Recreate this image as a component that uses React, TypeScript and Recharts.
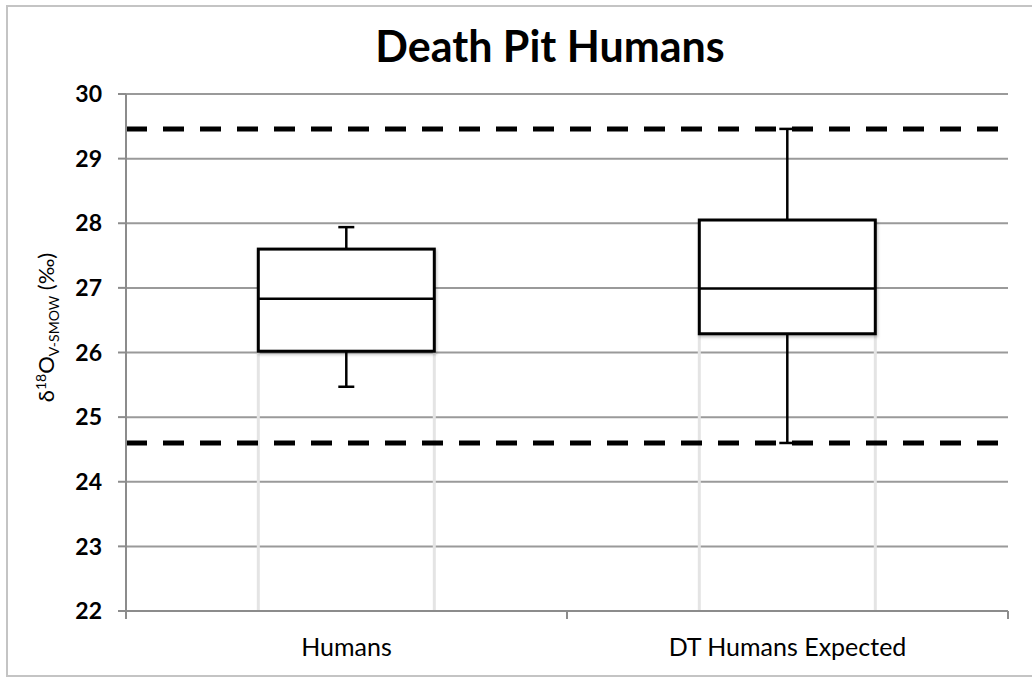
import { ComposedChart, Bar, XAxis, YAxis, CartesianGrid, ReferenceLine } from 'recharts';

// box plot values (per‰)
const categories = ['Humans', 'DT Humans Expected'];
const whiskerLow = [25.47, 24.6];
const boxLow = [26.02, 26.29];
const medians = [26.83, 26.99];
const boxHigh = [27.6, 28.05];
const whiskerHigh = [27.94, 29.46];
const yTicks = [22, 23, 24, 25, 26, 27, 28, 29, 30];
const limitLines = [29.46, 24.6];

const data = categories.map((name, i) => ({
  name,
  box: [boxLow[i], boxHigh[i]],
  low: whiskerLow[i],
  q1: boxLow[i],
  median: medians[i],
  q3: boxHigh[i],
  high: whiskerHigh[i],
}));

const AXIS = '#8c8c8c';

const BoxShape = (props: any) => {
  const { x, width, payload } = props;
  const top = Math.min(props.y, props.y + props.height);
  const h = Math.abs(props.height);
  const { low, q1, median, q3, high } = payload;
  // bar spans q1..q3, so derive the pixel scale from it
  const ppu = h / (q3 - q1);
  const py = (v: number) => top + (q3 - v) * ppu;
  const cx = x + width / 2;
  const floor = py(yTicks[0]);
  const cap = 8;
  return (
    <g>
      <defs>
        <filter id="boxShadow" x="-10%" y="-10%" width="120%" height="130%">
          <feDropShadow dx="1" dy="2" stdDeviation="1.5" floodColor="#000" floodOpacity="0.25" />
        </filter>
      </defs>
      <line x1={x} x2={x} y1={py(q1)} y2={floor} stroke="#e4e4e4" strokeWidth={3} />
      <line x1={x + width} x2={x + width} y1={py(q1)} y2={floor} stroke="#e4e4e4" strokeWidth={3} />
      <line x1={cx} x2={cx} y1={py(high)} y2={py(q3)} stroke="#000" strokeWidth={2.5} />
      <line x1={cx} x2={cx} y1={py(q1)} y2={py(low)} stroke="#000" strokeWidth={2.5} />
      <line x1={cx - cap} x2={cx + cap} y1={py(high)} y2={py(high)} stroke="#000" strokeWidth={2.5} />
      <line x1={cx - cap} x2={cx + cap} y1={py(low)} y2={py(low)} stroke="#000" strokeWidth={2.5} />
      <rect x={x} y={top} width={width} height={h} fill="#fff" stroke="#000" strokeWidth={3} filter="url(#boxShadow)" />
      <line x1={x} x2={x + width} y1={py(median)} y2={py(median)} stroke="#000" strokeWidth={2.5} />
    </g>
  );
};

const CategoryTick = (props: any) => {
  const { x, y, payload, width, visibleTicksCount } = props;
  const half = payload.offset ?? width / visibleTicksCount / 2;
  return (
    <g>
      <line x1={x - half} x2={x - half} y1={y} y2={y + 8} stroke={AXIS} strokeWidth={2} />
      <line x1={x + half} x2={x + half} y1={y} y2={y + 8} stroke={AXIS} strokeWidth={2} />
      <text x={x} y={y + 45} textAnchor="middle" fontFamily="Lato" fontSize={25} fill="#000">
        {payload.value}
      </text>
    </g>
  );
};

const YLabel = (props: any) => {
  const vb = props.viewBox || { x: 0, y: 94, width: 126, height: 517 };
  const bx = vb.x + 54;
  const by = vb.y + vb.height / 2 - 25;
  return (
    <text transform={`rotate(-90 ${bx} ${by})`} x={bx} y={by} textAnchor="middle" fontFamily="Lato" fontSize={22} fill="#000">
      <tspan>δ</tspan>
      <tspan fontSize={14} dy={-8}>18</tspan>
      <tspan dy={8}>O</tspan>
      <tspan fontSize={14} dy={5}>V-SMOW</tspan>
      <tspan dy={-5}> (‰)</tspan>
    </text>
  );
};

export default function App() {
  return (
    <div style={{ position: 'absolute', left: 0, top: 0, width: 1032, height: 682, background: '#fff', overflow: 'hidden', fontFamily: 'Lato' }}>
      <div style={{ position: 'absolute', left: 6, top: 5, width: 1060, height: 672, border: '2px solid #c4c4c4', boxSizing: 'border-box' }} />
      <div style={{ position: 'absolute', left: 550, top: 24, transform: 'translateX(-50%)', whiteSpace: 'nowrap', fontFamily: 'Lato', fontWeight: 700, fontSize: 43, lineHeight: '43px', color: '#000' }}>
        Death Pit Humans
      </div>
      <div style={{ position: 'absolute', left: 0, top: 0 }}>
        <ComposedChart width={1032} height={682} data={data} margin={{ top: 94, right: 24, left: 0, bottom: 0 }} barCategoryGap="30%">
          <CartesianGrid horizontal vertical={false} stroke="#9a9a9a" strokeWidth={2} />
          <XAxis
            dataKey="name"
            height={71}
            axisLine={{ stroke: AXIS, strokeWidth: 2 }}
            tickLine={false}
            tickSize={0}
            tickMargin={0}
            tick={<CategoryTick />}
            interval={0}
          />
          <YAxis
            width={126}
            domain={[22, 30]}
            ticks={yTicks}
            type="number"
            axisLine={{ stroke: AXIS, strokeWidth: 2 }}
            tickLine={{ stroke: AXIS, strokeWidth: 2 }}
            tickSize={8}
            tickMargin={16}
            tick={{ fontFamily: 'Lato', fontWeight: 700, fontSize: 23, fill: '#000' }}
            label={<YLabel />}
          />
          <Bar dataKey="box" shape={<BoxShape />} isAnimationActive={false} />
          {limitLines.map((v) => (
            <ReferenceLine key={v} y={v} stroke="#000" strokeWidth={5} strokeDasharray="21 16" />
          ))}
        </ComposedChart>
      </div>
    </div>
  );
}
